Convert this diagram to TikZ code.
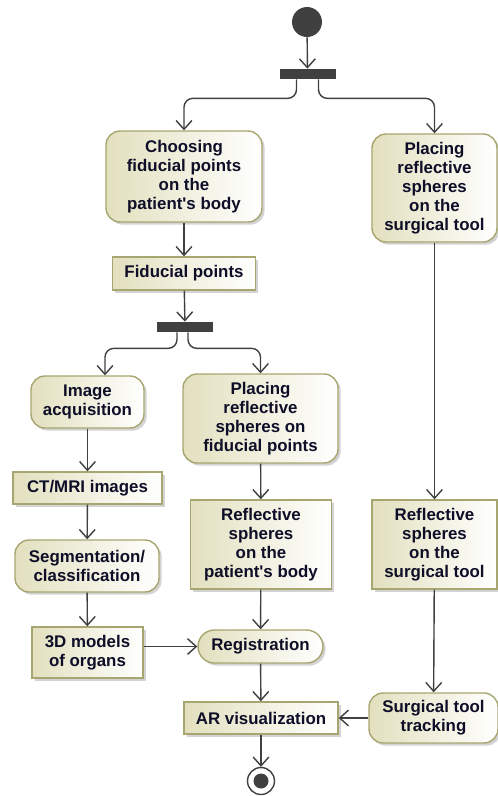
\documentclass[tikz,border=0pt]{standalone}
\usepackage{fontspec}
\setmainfont{Liberation Sans}
\usetikzlibrary{arrows.meta, positioning, calc, shadows}
\definecolor{minhaborda}{RGB}{168, 166, 112}
\definecolor{meuoliva}{RGB}{226, 224, 190}
\definecolor{meutexto}{RGB}{14, 14, 40}
\definecolor{minhalinha}{RGB}{64, 64, 64}

\begin{document}
\begin{tikzpicture}[
    acao/.style={
        draw=minhaborda,
        thick,
        rounded corners=8pt,
        left color=meuoliva,
        right color=white,
        drop shadow={shadow xshift=1.5pt, shadow yshift=-1.5pt, opacity=0.35},
        align=center,
        inner sep=2pt,
        text=meutexto,
        font=\fontsize{9.6}{10.8}\selectfont\bfseries
    },
    objeto/.style={
        acao,
        rounded corners=0pt
    },
    barra/.style={
        fill=minhalinha,
        minimum width=1.12cm,
        minimum height=0.2cm,
        inner sep=0pt
    },
    fluxo/.style={
        draw=minhalinha,
        thick,
        -{Straight Barb[length=5pt, width=9pt]}
    }
]

\useasboundingbox (0,0) rectangle (9.96,-15.92);

% ---------------- Inicio ----------------

\node[
    circle,
    fill=minhalinha,
    minimum size=0.6cm,
    inner sep=0pt
] (inicio) at (6.14,-0.44)
{};

\node[barra] (fork1) at (6.15,-1.48) {};

% ---------------- Ramo esquerdo ----------------

\node[
    acao,
    minimum width=3.12cm,
    minimum height=1.82cm
] (escolha) at (3.68,-3.53)
{
    Choosing\\ fiducial points\\ on the\\ patient\textquotesingle s body
};

\node[
    objeto,
    minimum width=2.86cm,
    minimum height=0.66cm
] (fiduciais) at (3.68,-5.47)
{Fiducial points};

\node[barra] (fork2) at (3.70,-6.54) {};

\node[
    acao,
    minimum width=2.26cm,
    minimum height=1.04cm
] (aquisicao) at (1.75,-8.04)
{
    Image\\ acquisition
};

\node[
    objeto,
    minimum width=2.98cm,
    minimum height=0.64cm
] (imagens) at (1.75,-9.76)
{CT/MRI images};

\node[
    acao,
    minimum width=2.88cm,
    minimum height=1.04cm
] (segmentacao) at (1.74,-11.32)
{
    Segmentation/\\ classification
};

\node[
    objeto,
    minimum width=2.22cm,
    minimum height=1.02cm
] (modelos) at (1.75,-13.05)
{
    3D models\\ of organs
};

% ---------------- Ramo central ----------------

\node[
    acao,
    minimum width=3.1cm,
    minimum height=1.78cm
] (esferasfid) at (5.21,-8.37)
{
    Placing\\ reflective\\ spheres on\\ fiducial points
};

\node[
    objeto,
    minimum width=2.82cm,
    minimum height=1.78cm
] (esferaspac) at (5.22,-10.89)
{
    Reflective\\ spheres\\ on the\\ patient\textquotesingle s body
};

\node[
    acao,
    rounded corners=0.33cm,
    minimum width=2.5cm,
    minimum height=0.66cm
] (registro) at (5.21,-12.93)
{Registration};

\node[
    objeto,
    minimum width=3.08cm,
    minimum height=0.64cm
] (visualizacao) at (5.22,-14.36)
{AR visualization};

\node[
    circle,
    draw=minhalinha,
    thick,
    fill=white,
    minimum size=0.54cm,
    inner sep=0pt
] (fim) at (5.22,-15.62)
{};

\node[
    circle,
    fill=minhalinha,
    minimum size=0.3cm,
    inner sep=0pt
] at (fim)
{};

% ---------------- Ramo direito ----------------

\node[
    acao,
    minimum width=2.5cm,
    minimum height=2.16cm
] (esferasferr) at (8.69,-3.76)
{
    Placing\\ reflective\\ spheres\\ on the\\ surgical tool
};

\node[
    objeto,
    minimum width=2.5cm,
    minimum height=1.78cm
] (esferasinst) at (8.69,-10.89)
{
    Reflective\\ spheres\\ on the\\ surgical tool
};

\node[
    acao,
    minimum width=2.58cm,
    minimum height=1.0cm
] (rastreio) at (8.67,-14.36)
{
    Surgical tool\\ tracking
};

% ---------------- Conexoes ----------------

\draw[fluxo] (inicio) -- (fork1);
\draw[fluxo, rounded corners=5pt] ([xshift=-0.22cm]fork1.south) -- ++(0,-0.38) -| (escolha.north);
\draw[fluxo, rounded corners=5pt] ([xshift=0.22cm]fork1.south) -- ++(0,-0.38) -| (esferasferr.north);
\draw[fluxo] (escolha) -- (fiduciais);
\draw[fluxo] (fiduciais) -- (fork2);
\draw[fluxo, rounded corners=5pt] ([xshift=-0.16cm]fork2.south) -- ++(0,-0.32) -| ([xshift=0.35cm]aquisicao.north);
\draw[fluxo, rounded corners=5pt] ([xshift=0.06cm]fork2.south) -- ++(0,-0.32) -| (esferasfid.north);
\draw[fluxo] (aquisicao) -- (imagens);
\draw[fluxo] (imagens) -- (segmentacao);
\draw[fluxo] (segmentacao) -- (modelos);
\draw[fluxo] (modelos.east |- registro.west) -- (registro.west);
\draw[fluxo] (esferasfid) -- (esferaspac);
\draw[fluxo] (esferaspac) -- (registro);
\draw[fluxo] (registro) -- (visualizacao);
\draw[fluxo] (visualizacao) -- (fim);
\draw[fluxo] (esferasinst) -- (rastreio);
\draw[fluxo] (esferasferr) -- (esferasinst);
\draw[fluxo] (rastreio) -- (visualizacao);

\end{tikzpicture}
\end{document}
